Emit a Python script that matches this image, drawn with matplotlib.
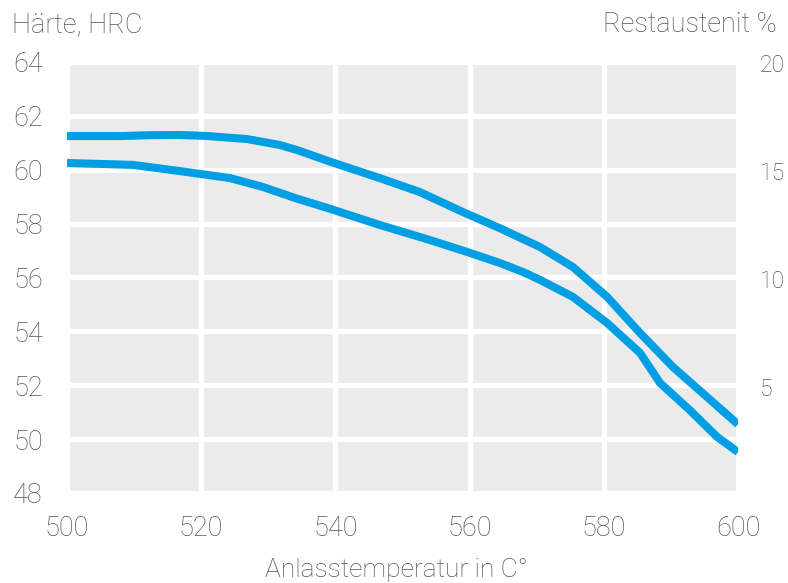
import matplotlib
matplotlib.use("Agg")
from matplotlib import pyplot as plt

plt.rcParams['font.family'] = ['Roboto', 'Liberation Sans', 'DejaVu Sans']
plt.rcParams['font.weight'] = 'light'

# Anlasstemperatur (C) und Haerte (HRC)
temp_upper = [500, 508, 512, 516.8, 521, 526.8, 531.7, 534.3, 539.2, 546.6, 552.6,
              559.0, 564.5, 570.5, 575.4, 580.5, 585.4, 590.3, 595.4, 600]
hrc_upper = [61.25, 61.25, 61.28, 61.29, 61.25, 61.14, 60.92, 60.73, 60.30, 59.69, 59.17,
             58.43, 57.83, 57.13, 56.39, 55.28, 53.94, 52.68, 51.56, 50.55]

temp_lower = [500, 509.8, 516.8, 524.3, 529.2, 534.0, 539.2, 546.6, 554.1, 559.6, 564.5,
              568.0, 570.5, 575.4, 580.5, 585.4, 588.4, 592.8, 596.9, 600]
hrc_lower = [60.25, 60.18, 59.95, 59.69, 59.36, 58.95, 58.55, 57.95, 57.39, 56.95, 56.54,
             56.20, 55.91, 55.28, 54.31, 53.20, 52.08, 51.08, 50.08, 49.52]

x_ticks = [500, 520, 540, 560, 580, 600]
y_ticks = [48, 50, 52, 54, 56, 58, 60, 62, 64]
y2_ticks = [5, 10, 15, 20]

text_color = "#555555"
line_color = "#009fe3"

fig = plt.figure(figsize=(7.88, 5.83), dpi=100)
ax = fig.add_axes([0.085, 0.1544, 0.8515, 0.7393])
ax.set_facecolor("#ebebeb")

ax.plot(temp_upper, hrc_upper, color=line_color, lw=5.8, solid_joinstyle="round",
        solid_capstyle="butt", zorder=3)
ax.plot(temp_lower, hrc_lower, color=line_color, lw=5.8, solid_joinstyle="round",
        solid_capstyle="butt", zorder=3)

ax.set_xlim(500, 600)
ax.set_ylim(48, 64)
ax.set_xticks(x_ticks)
ax.set_yticks(y_ticks)
ax.grid(True, color="white", lw=3.8)
ax.set_axisbelow(True)
for s in ax.spines.values():
    s.set_visible(False)
ax.tick_params(axis="both", length=0, labelsize=19.5, labelcolor=text_color)
ax.tick_params(axis="x", pad=15.5)
ax.tick_params(axis="y", pad=0)
for lbl in ax.get_yticklabels():
    lbl.set_horizontalalignment("left")
    lbl.set_x(-0.08)

ax2 = ax.twinx()
ax2.set_ylim(0.1, 20.05)
ax2.set_yticks(y2_ticks)
ax2.tick_params(axis="y", length=0, labelsize=16.5, labelcolor=text_color, pad=15.5)
for s in ax2.spines.values():
    s.set_visible(False)

fig.text(12 / 788, 1 - 25 / 583, "Härte, HRC", fontsize=19.5, color=text_color,
         ha="left", va="center")
fig.text(777 / 788, 1 - 25 / 583, "Restaustenit %", fontsize=19.5, color=text_color,
         ha="right", va="center")
fig.text(396 / 788, 1 - 570 / 583, "Anlasstemperatur in C°", fontsize=19,
         color=text_color, ha="center", va="center")

fig.savefig("out.png", dpi=100)
